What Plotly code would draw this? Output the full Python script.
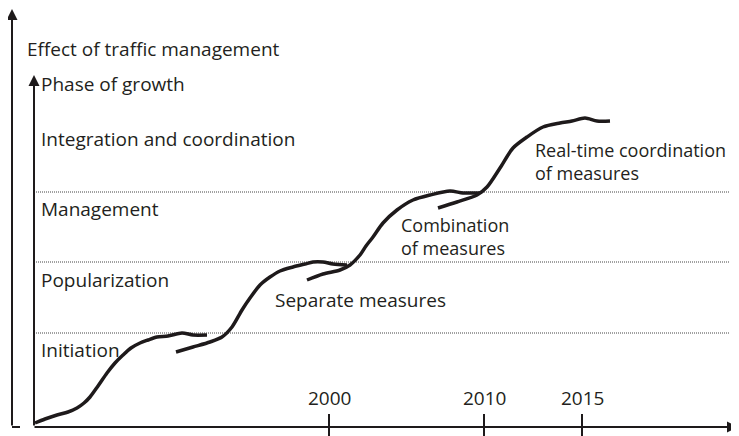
import plotly.graph_objects as go

# ---- data (x: time progression units, y: effect units; origin at axes corner) ----
seg1_x = [1, 11, 23, 34, 43, 50, 56, 64, 73, 81, 89, 97, 106, 114, 123, 134, 148, 159, 173]
seg1_y = [4, 8, 12, 15, 19, 24, 30, 41, 54, 64, 72, 79, 84, 87, 90, 91, 94, 92, 92]

seg2_x = [142, 159, 176, 188, 198, 208, 216, 226, 236, 246, 259, 271, 279, 289, 299, 313]
seg2_y = [75, 80, 85, 90, 100, 117, 129, 142, 150, 156, 160, 163, 165, 165, 163, 162]

seg3_x = [273, 289, 306, 316, 326, 332, 339, 349, 363, 379, 396, 416, 429, 443, 446]
seg3_y = [147, 153, 157, 162, 172, 181, 190, 204, 217, 227, 232, 236, 234, 234, 234]

seg4_x = [404, 423, 443, 453, 466, 479, 493, 509, 526, 538, 551, 563, 576]
seg4_y = [219, 225, 232, 240, 259, 279, 290, 300, 304, 306, 309, 306, 306]

phase_levels = [94, 165, 235]
phase_labels = ["Initiation", "Popularization", "Management", "Integration and coordination"]
phase_label_y = [77, 147, 218, 288]

tick_pos = [295, 450, 548]
tick_labels = ["2000", "2010", "2015"]

measure_labels = ["Separate measures", "Combination<br>of measures",
                  "Real-time coordination<br>of measures"]
measure_x = [239, 365, 499]
measure_y = [127, 190.5, 265.5]
measure_size = [19, 18, 18]

FONT = "Open Sans"
FS = 19
TXT = "#231f20"
LINE = "#1e1a1b"

fig = go.Figure()

# dotted phase boundaries
for lv in phase_levels:
    fig.add_trace(go.Scatter(x=[0, 696], y=[lv, lv], mode="lines",
                             line=dict(color="#444444", width=1, dash="1px,1px"),
                             hoverinfo="skip", showlegend=False))

# growth curves
for sx, sy in [(seg1_x, seg1_y), (seg2_x, seg2_y), (seg3_x, seg3_y), (seg4_x, seg4_y)]:
    fig.add_trace(go.Scatter(x=sx, y=sy, mode="lines",
                             line=dict(color=LINE, width=3.5, shape="spline", smoothing=0.8),
                             hoverinfo="skip", showlegend=False))

# tick marks
for tp in tick_pos:
    fig.add_trace(go.Scatter(x=[tp, tp], y=[13, -9], mode="lines",
                             line=dict(color=LINE, width=2),
                             hoverinfo="skip", showlegend=False))

# outer axis foot
fig.add_trace(go.Scatter(x=[-22, -14], y=[0, 0], mode="lines",
                         line=dict(color=LINE, width=2),
                         hoverinfo="skip", showlegend=False))

annotations = []
arrow_common = dict(text="", showarrow=True, axref="x", ayref="y", xref="x", yref="y",
                    arrowhead=2, arrowsize=1.1, arrowwidth=2, arrowcolor=LINE, standoff=0,
                    startstandoff=0)
annotations.append(dict(x=-22, y=418, ax=-22, ay=0, **arrow_common))
annotations.append(dict(x=0, y=352, ax=0, ay=0, **arrow_common))
annotations.append(dict(x=704, y=0, ax=-1, ay=0, **arrow_common))

def txt(x, y, s, xanchor="left", align="left", size=FS):
    return dict(x=x, y=y, xref="x", yref="y", text=s, showarrow=False,
                xanchor=xanchor, yanchor="middle", align=align,
                font=dict(family=FONT, size=size, color=TXT))

annotations.append(txt(-9, 378, "Effect of traffic management"))
annotations.append(txt(5, 343, "Phase of growth"))
for lab, ly in zip(phase_labels, phase_label_y):
    annotations.append(txt(5, ly, lab))
for lab, mx, my, ms in zip(measure_labels, measure_x, measure_y, measure_size):
    annotations.append(txt(mx, my, lab, size=ms))
for tp, tl in zip(tick_pos, tick_labels):
    annotations.append(txt(tp, 29, tl, xanchor="center", align="center"))

# page has an 8px body margin, so the figure is 731x428 and the ranges map 1 unit = 1 px
fig.update_layout(
    width=731, height=428,
    margin=dict(l=0, r=0, t=0, b=0),
    paper_bgcolor="white", plot_bgcolor="white",
    xaxis=dict(range=[-26, 705], visible=False, fixedrange=True),
    yaxis=dict(range=[-9, 419], visible=False, fixedrange=True),
    annotations=annotations,
    showlegend=False,
)

fig.write_html("out.html")
